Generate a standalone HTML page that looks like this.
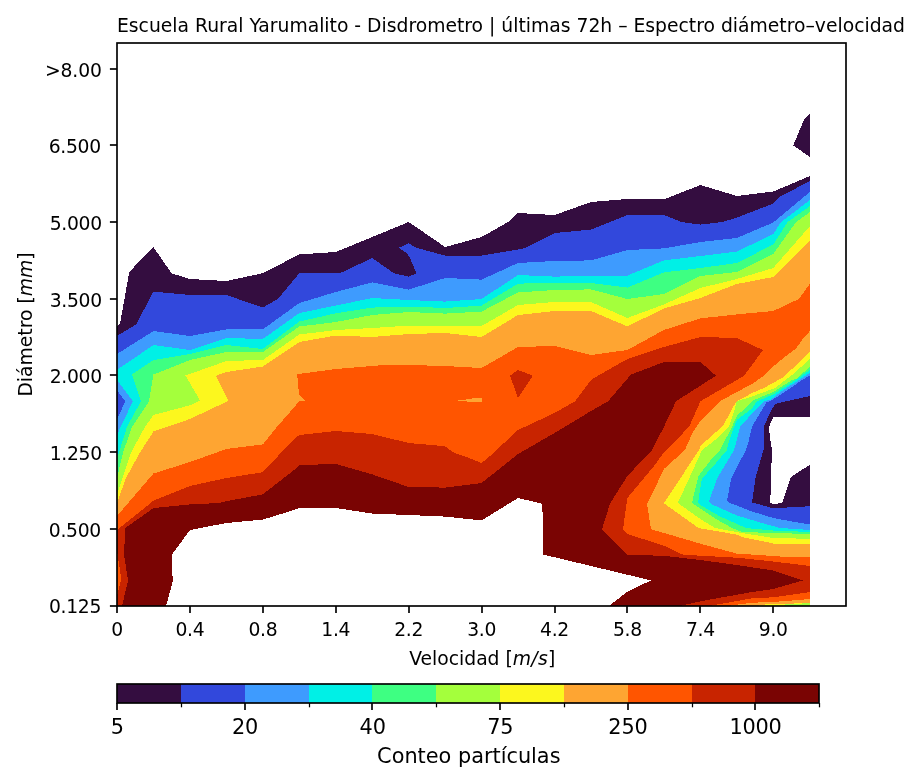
<!DOCTYPE html>
<html lang="es"><head><meta charset="utf-8">
<title>Escuela Rural Yarumalito - Disdrometro</title>
<style>
html,body{margin:0;padding:0;background:#fff;}
body{width:920px;height:782px;overflow:hidden;}
svg{display:block;}
text{font-family:"DejaVu Sans","Liberation Sans",sans-serif;fill:#000;}
.t9{font-size:18.75px;}
.tk{letter-spacing:-0.3px;}
.t10{font-size:20.83px;}
.it{font-style:oblique;}
</style></head><body>
<svg width="920" height="782" viewBox="0 0 920 782">
<rect x="0" y="0" width="920" height="782" fill="#ffffff"/>
<g shape-rendering="crispEdges" stroke="none">
<path fill="#340d40" d="M117.0,606.0 L117.0,326.2 L120.2,322.8 L129.2,272.3 L140.0,260.5 L153.5,247.3 L171.6,273.3 L190.0,279.0 L226.4,281.0 L262.8,273.2 L299.3,254.4 L335.8,252.0 L408.7,222.0 L445.1,247.0 L481.6,237.0 L508.0,222.1 L518.0,213.0 L554.5,215.0 L591.0,202.0 L627.4,199.0 L663.9,199.4 L700.4,185.0 L736.8,196.0 L773.3,191.5 L810.0,176.0 L810.0,416.8 L773.3,416.8 L769.0,427.0 L770.0,438.0 L772.0,450.0 L771.5,463.0 L771.0,487.0 L770.0,502.8 L774.0,504.0 L782.0,503.0 L786.0,492.0 L791.0,477.0 L799.0,471.5 L810.0,465.0 L810.0,606.0Z"/>
<path fill="#3248dc" d="M117.0,606.0 L117.0,335.8 L136.0,324.5 L153.5,291.6 L190.0,295.0 L226.4,295.0 L262.8,307.6 L278.0,298.9 L299.3,273.2 L340.0,273.2 L372.2,258.0 L394.0,273.3 L408.7,276.6 L416.4,273.3 L410.0,258.0 L407.0,253.5 L399.0,247.7 L408.7,243.2 L416.0,247.7 L445.1,255.6 L481.6,255.6 L518.0,249.6 L526.0,247.7 L554.5,233.0 L591.0,229.6 L627.4,215.0 L663.9,215.0 L682.0,222.1 L700.4,224.6 L722.0,222.1 L736.8,217.6 L773.3,203.5 L780.0,196.6 L810.0,181.0 L810.0,396.0 L786.0,401.3 L775.0,404.0 L771.0,411.0 L763.5,426.9 L763.5,450.0 L755.5,478.0 L752.0,502.5 L760.0,504.5 L771.0,507.8 L787.0,507.5 L810.0,506.2 L810.0,606.0Z"/>
<path fill="#3e9bfe" d="M117.0,606.0 L117.0,354.0 L153.5,331.0 L190.0,336.0 L226.4,329.4 L262.8,329.4 L299.3,303.0 L335.8,292.0 L372.2,282.4 L408.7,289.6 L445.1,278.0 L481.6,279.6 L518.0,263.0 L554.5,261.0 L591.0,260.4 L627.4,250.0 L663.9,248.4 L700.4,242.0 L736.8,238.0 L773.3,222.5 L810.0,191.8 L810.0,375.5 L802.0,380.0 L787.0,390.5 L772.0,400.0 L766.5,402.5 L752.0,426.5 L748.0,444.0 L746.0,450.0 L738.0,465.0 L731.0,479.0 L729.0,490.0 L727.0,501.0 L730.0,503.0 L736.8,505.5 L752.0,511.5 L773.3,518.0 L792.0,521.5 L810.0,524.5 L810.0,606.0Z"/>
<path fill="#00f0e6" d="M117.0,606.0 L117.0,369.8 L153.5,345.0 L190.0,350.0 L226.4,338.0 L262.8,339.0 L299.3,313.0 L335.8,305.6 L372.2,298.0 L408.7,300.0 L445.1,301.6 L481.6,299.0 L518.0,275.0 L554.5,276.6 L591.0,276.0 L627.4,275.6 L663.9,260.4 L700.4,256.0 L736.8,251.6 L773.3,234.0 L781.0,222.1 L810.0,200.0 L810.0,372.8 L799.0,380.0 L782.0,391.0 L771.0,399.5 L764.0,401.3 L752.0,413.5 L740.0,426.9 L736.8,440.0 L734.0,450.0 L724.0,467.0 L717.0,478.5 L713.0,490.0 L709.0,502.0 L712.0,504.5 L736.8,515.5 L752.0,520.0 L762.0,523.0 L780.0,528.0 L810.0,530.0 L810.0,606.0Z"/>
<path fill="#3eff82" d="M117.0,606.0 L117.0,457.0 L119.0,452.5 L127.0,426.9 L141.0,401.3 L132.0,374.5 L153.5,360.0 L190.0,354.0 L226.4,345.0 L262.8,349.0 L299.3,321.5 L335.8,313.3 L372.2,307.6 L408.7,306.5 L445.1,308.0 L481.6,305.6 L518.0,283.6 L554.5,283.0 L591.0,283.0 L627.4,287.6 L663.9,272.4 L700.4,268.0 L736.8,263.0 L773.3,244.5 L787.5,222.1 L810.0,206.0 L810.0,370.0 L795.5,380.0 L773.3,394.5 L757.0,401.3 L752.0,408.5 L736.8,420.0 L734.0,426.9 L728.0,444.0 L727.0,450.0 L716.0,463.0 L702.0,478.5 L700.0,490.0 L698.0,503.0 L700.4,505.0 L720.0,516.5 L746.0,528.0 L773.3,530.5 L810.0,532.0 L810.0,606.0Z"/>
<path fill="#a4ff3c" d="M117.0,606.0 L117.0,478.0 L123.0,452.5 L132.0,426.9 L149.0,401.3 L153.5,374.5 L190.0,360.0 L226.4,352.0 L262.8,352.0 L299.3,326.5 L335.8,322.0 L372.2,315.0 L408.7,312.0 L445.1,313.6 L481.6,311.6 L518.0,292.4 L554.5,290.0 L591.0,289.4 L627.4,299.0 L663.9,294.0 L700.4,276.0 L736.8,272.0 L773.3,254.0 L796.0,222.1 L810.0,212.0 L810.0,366.8 L796.0,379.0 L792.0,380.0 L773.3,392.0 L754.0,400.0 L752.0,401.5 L736.8,416.0 L732.0,426.9 L720.0,450.0 L710.0,461.0 L698.5,476.0 L695.0,490.0 L692.0,503.0 L695.0,505.0 L700.4,508.5 L716.0,519.0 L732.0,528.0 L742.0,532.0 L773.3,533.0 L810.0,534.0 L810.0,606.0Z"/>
<path fill="#fcf71e" d="M117.0,606.0 L117.0,494.0 L131.0,452.5 L145.0,426.9 L153.5,415.0 L189.9,405.3 L200.0,400.5 L185.5,375.5 L226.4,361.0 L262.8,360.0 L299.3,334.5 L335.8,330.0 L372.2,328.0 L408.7,325.6 L445.1,325.6 L481.6,326.0 L518.0,305.0 L554.5,302.0 L591.0,302.0 L627.4,318.0 L663.9,304.4 L700.4,288.0 L736.8,279.0 L773.3,268.0 L810.0,226.0 L810.0,359.0 L792.0,375.0 L775.0,388.0 L752.0,396.5 L736.8,401.3 L734.5,410.0 L732.0,418.0 L729.0,426.9 L720.0,436.0 L710.0,444.0 L702.0,450.0 L693.0,470.0 L678.0,502.5 L680.0,504.5 L700.4,519.0 L715.0,528.0 L742.0,533.0 L773.3,538.0 L810.0,538.8 L810.0,603.2 L785.0,604.2 L783.0,606.0Z"/>
<path fill="#fea532" d="M117.0,606.0 L117.0,503.0 L126.0,478.0 L140.0,452.5 L153.5,431.5 L189.9,419.0 L226.4,401.8 L228.5,400.5 L216.0,375.7 L226.4,372.0 L262.8,366.5 L299.3,342.0 L335.8,335.5 L372.2,337.0 L408.7,334.0 L445.1,333.0 L481.6,337.0 L518.0,315.0 L554.5,311.0 L591.0,311.0 L627.4,326.4 L663.9,308.5 L700.4,298.0 L736.8,284.0 L773.3,277.0 L810.0,241.0 L810.0,352.0 L792.0,369.0 L782.0,378.0 L764.0,388.0 L752.0,393.0 L745.0,397.0 L736.8,401.3 L733.0,407.0 L729.0,415.0 L724.0,424.0 L716.0,432.0 L707.0,440.0 L700.4,446.5 L699.0,450.0 L663.9,503.3 L698.5,528.0 L736.8,534.6 L742.0,537.0 L773.3,543.5 L810.0,544.0 L810.0,603.0 L800.0,603.3 L762.0,604.6 L758.0,606.0Z"/>
<path fill="#ff5500" d="M117.0,606.0 L117.0,516.0 L153.5,473.5 L190.0,462.0 L226.4,449.0 L262.8,444.4 L276.0,428.0 L299.3,401.3 L305.0,401.0 L299.0,395.0 L297.2,374.2 L335.8,369.0 L384.0,365.0 L408.7,365.0 L445.1,366.0 L481.6,368.0 L518.0,347.0 L554.5,346.0 L591.0,355.0 L627.4,350.0 L663.9,330.0 L700.4,318.4 L736.8,314.4 L773.3,311.0 L799.0,298.9 L810.0,283.6 L810.0,330.8 L802.0,340.0 L796.0,348.5 L784.0,357.5 L773.3,366.5 L762.0,377.0 L752.0,384.0 L736.8,392.0 L720.0,401.3 L700.4,421.0 L693.0,432.0 L687.0,445.0 L685.0,450.0 L663.9,469.0 L654.0,490.0 L647.0,503.6 L651.0,529.2 L700.4,543.7 L736.8,553.6 L766.0,555.5 L787.0,557.0 L810.0,557.0 L810.0,599.0 L773.3,602.0 L752.0,602.7 L727.0,606.0Z"/>
<path fill="#c82400" d="M117.0,606.0 L117.0,530.0 L153.5,500.7 L190.0,486.0 L226.4,478.0 L262.8,472.2 L293.0,440.0 L299.3,435.0 L335.8,431.0 L372.2,434.0 L408.7,443.0 L445.1,446.2 L453.0,452.3 L468.0,457.5 L481.6,463.0 L490.0,456.0 L518.0,430.0 L554.5,413.0 L575.0,401.3 L591.0,380.0 L598.0,375.7 L627.4,359.0 L654.0,350.0 L663.9,347.0 L700.4,337.0 L736.8,338.0 L763.0,350.1 L744.0,375.7 L736.8,380.0 L700.4,401.3 L689.0,426.9 L663.9,452.5 L654.0,466.0 L627.4,498.0 L623.0,529.2 L627.4,534.0 L663.9,545.7 L683.0,554.7 L700.4,555.7 L736.8,557.7 L773.3,561.5 L810.0,566.0 L810.0,592.0 L773.3,597.3 L752.0,598.3 L709.0,606.0Z"/>
<path fill="#7a0403" d="M122.0,606.0 L128.0,580.4 L124.0,554.8 L125.3,528.0 L153.5,508.0 L190.0,504.4 L219.0,503.0 L226.4,501.2 L262.8,494.4 L294.0,470.0 L299.3,465.0 L335.8,464.0 L372.2,474.4 L408.7,487.0 L445.1,487.6 L481.6,483.0 L518.0,454.0 L554.5,433.0 L591.0,411.0 L608.0,401.3 L631.0,374.6 L663.9,362.0 L700.4,362.0 L716.0,375.7 L676.0,401.3 L663.9,426.9 L652.0,450.0 L627.4,476.0 L610.0,503.6 L602.0,529.2 L627.4,554.8 L663.9,555.8 L700.4,560.0 L736.8,565.0 L773.3,570.5 L803.0,580.4 L773.3,589.0 L752.0,592.0 L700.4,601.3 L680.0,606.0Z"/>
<path fill="#ffffff" d="M166.0,606.0 L173.0,580.4 L172.0,571.0 L172.0,554.5 L190.0,530.0 L226.4,523.0 L262.8,519.6 L294.0,510.0 L299.3,508.0 L335.8,508.0 L372.2,513.6 L408.7,515.0 L445.1,516.6 L481.6,520.4 L518.0,498.0 L540.3,503.2 L542.4,505.2 L543.2,552.5 L542.3,554.3 L651.0,580.4 L627.4,591.6 L609.0,606.0Z"/>
<path fill="#340d40" d="M810.0,114.0 L804.0,119.8 L793.2,145.4 L810.0,157.0Z"/>
<path fill="#3e9bfe" d="M117.0,379.8 L133.0,401.3 L120.5,426.9 L117.0,436.0Z"/>
<path fill="#3248dc" d="M117.0,390.5 L125.3,401.3 L117.0,419.5Z"/>
<path fill="#ff5500" d="M117.0,551.0 L121.3,579.0 L117.0,596.0Z"/>
<path fill="#c82400" d="M510.0,375.7 L518.0,370.0 L533.0,375.7 L518.0,398.0Z"/>
<path fill="#fea532" d="M458.0,400.2 L466.0,399.8 L467.0,399.0 L475.0,398.2 L481.8,398.2 L481.8,402.0 L468.0,402.0 L466.0,401.2 L458.0,401.0Z"/>
</g>
<g stroke="#000" stroke-width="1.667" fill="none" stroke-linecap="butt">
<line x1="117.00" y1="606.00" x2="109.90" y2="606.00"/>
<line x1="117.00" y1="529.00" x2="109.90" y2="529.00"/>
<line x1="117.00" y1="452.00" x2="109.90" y2="452.00"/>
<line x1="117.00" y1="375.00" x2="109.90" y2="375.00"/>
<line x1="117.00" y1="299.00" x2="109.90" y2="299.00"/>
<line x1="117.00" y1="222.00" x2="109.90" y2="222.00"/>
<line x1="117.00" y1="145.00" x2="109.90" y2="145.00"/>
<line x1="117.00" y1="69.00" x2="109.90" y2="69.00"/>
<line x1="117.00" y1="606.00" x2="117.00" y2="613.10"/>
<line x1="190.00" y1="606.00" x2="190.00" y2="613.10"/>
<line x1="263.00" y1="606.00" x2="263.00" y2="613.10"/>
<line x1="336.00" y1="606.00" x2="336.00" y2="613.10"/>
<line x1="409.00" y1="606.00" x2="409.00" y2="613.10"/>
<line x1="482.00" y1="606.00" x2="482.00" y2="613.10"/>
<line x1="555.00" y1="606.00" x2="555.00" y2="613.10"/>
<line x1="627.00" y1="606.00" x2="627.00" y2="613.10"/>
<line x1="700.00" y1="606.00" x2="700.00" y2="613.10"/>
<line x1="773.00" y1="606.00" x2="773.00" y2="613.10"/>
<rect x="117.00" y="43.00" width="729.00" height="563.00" stroke-linejoin="miter"/>
</g>
<g class="t9 tk" text-anchor="end">
<text x="101.10" y="612.90">0.125</text>
<text x="101.00" y="536.90">0.500</text>
<text x="101.90" y="459.90">1.250</text>
<text x="101.90" y="382.90">2.000</text>
<text x="101.90" y="306.90">3.500</text>
<text x="101.90" y="229.90">5.000</text>
<text x="100.90" y="152.90">6.500</text>
<text x="101.90" y="76.60" style="letter-spacing:-0.1px">&gt;8.00</text>
</g>
<g class="t9 tk" text-anchor="middle">
<text x="117.00" y="636.20">0</text>
<text x="189.92" y="636.20">0.4</text>
<text x="262.84" y="636.20">0.8</text>
<text x="335.76" y="636.20">1.4</text>
<text x="408.68" y="636.20">2.2</text>
<text x="481.60" y="636.20">3.0</text>
<text x="554.52" y="636.20">4.2</text>
<text x="627.44" y="636.20">5.8</text>
<text x="700.36" y="636.20">7.4</text>
<text x="773.28" y="636.20">9.0</text>
</g>
<text class="t9" text-anchor="middle" x="482.20" y="665.00">Velocidad [<tspan class="it" style="letter-spacing:0.25px">m/s</tspan>]</text>
<text class="t9" text-anchor="middle" transform="translate(32.00,324.50) rotate(-90)">Diámetro [<tspan class="it">mm</tspan>]</text>
<text class="t9" text-anchor="start" x="117.00" y="32.00">Escuela Rural Yarumalito - Disdrometro | últimas 72h – Espectro diámetro–velocidad</text>
<g shape-rendering="crispEdges" stroke="none">
<rect x="117" y="684.00" width="65" height="19.00" fill="#340d40"/>
<rect x="181" y="684.00" width="65" height="19.00" fill="#3248dc"/>
<rect x="245" y="684.00" width="65" height="19.00" fill="#3e9bfe"/>
<rect x="309" y="684.00" width="64" height="19.00" fill="#00f0e6"/>
<rect x="372" y="684.00" width="65" height="19.00" fill="#3eff82"/>
<rect x="436" y="684.00" width="65" height="19.00" fill="#a4ff3c"/>
<rect x="500" y="684.00" width="65" height="19.00" fill="#fcf71e"/>
<rect x="564" y="684.00" width="65" height="19.00" fill="#fea532"/>
<rect x="628" y="684.00" width="65" height="19.00" fill="#ff5500"/>
<rect x="692" y="684.00" width="64" height="19.00" fill="#c82400"/>
<rect x="755" y="684.00" width="64" height="19.00" fill="#7a0403"/>
</g>
<g stroke="#000" stroke-width="1.667" fill="none">
<line x1="117.00" y1="703.00" x2="117.00" y2="710.10" stroke-width="1.667"/>
<line x1="181.50" y1="703.00" x2="181.50" y2="707.30" stroke-width="1.25"/>
<line x1="245.00" y1="703.00" x2="245.00" y2="710.10" stroke-width="1.667"/>
<line x1="309.50" y1="703.00" x2="309.50" y2="707.30" stroke-width="1.25"/>
<line x1="372.00" y1="703.00" x2="372.00" y2="710.10" stroke-width="1.667"/>
<line x1="436.50" y1="703.00" x2="436.50" y2="707.30" stroke-width="1.25"/>
<line x1="500.00" y1="703.00" x2="500.00" y2="710.10" stroke-width="1.667"/>
<line x1="564.50" y1="703.00" x2="564.50" y2="707.30" stroke-width="1.25"/>
<line x1="628.00" y1="703.00" x2="628.00" y2="710.10" stroke-width="1.667"/>
<line x1="692.50" y1="703.00" x2="692.50" y2="707.30" stroke-width="1.25"/>
<line x1="755.00" y1="703.00" x2="755.00" y2="710.10" stroke-width="1.667"/>
<line x1="819.50" y1="703.00" x2="819.50" y2="707.30" stroke-width="1.25"/>
<rect x="117.00" y="684.00" width="702.00" height="19.00"/>
</g>
<g class="t10" text-anchor="middle">
<text x="117.40" y="734.10" style="letter-spacing:-0.2px">5</text>
<text x="245.04" y="734.10" style="letter-spacing:-0.2px">20</text>
<text x="372.67" y="734.10" style="letter-spacing:-0.2px">40</text>
<text x="500.31" y="734.10" style="letter-spacing:-0.2px">75</text>
<text x="627.95" y="734.10" style="letter-spacing:-0.2px">250</text>
<text x="755.58" y="734.10" style="letter-spacing:-0.2px">1000</text>
<text x="468.80" y="762.50">Conteo partículas</text>
</g>
</svg></body></html>
